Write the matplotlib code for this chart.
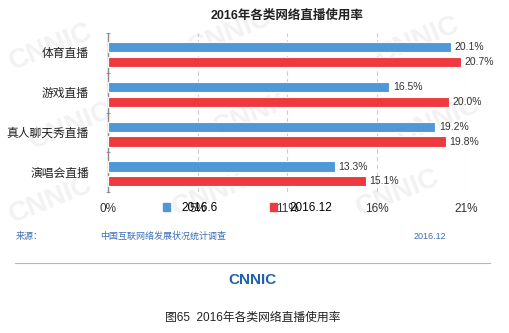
import matplotlib.pyplot as plt
import numpy as np
from matplotlib.patches import Patch

plt.rcParams['font.family'] = ['Liberation Sans', 'Noto Sans CJK SC', 'DejaVu Sans']

categories = ['体育直播', '游戏直播', '真人聊天秀直播', '演唱会直播']
jun_2016 = [20.1, 16.5, 19.2, 13.3]
dec_2016 = [20.7, 20.0, 19.8, 15.1]
series_names = ['2016.6', '2016.12']
tick_vals = [0, 5.25, 10.5, 15.75, 21]
tick_labels = ['0%', '5%', '11%', '16%', '21%']

blue = '#4e98d8'
red = '#ee3a3f'

fig = plt.figure(figsize=(5.1, 3.33), dpi=100)

# faint logo watermark behind everything
for wx, wy in [(0.10, 0.86), (0.45, 0.90), (0.82, 0.88), (0.14, 0.62), (0.50, 0.66),
               (0.86, 0.64), (0.10, 0.40), (0.42, 0.42), (0.78, 0.42)]:
    fig.text(wx, wy, 'CNNIC', fontsize=20, fontweight='bold', color='#f2f2f2',
             rotation=22, ha='center', va='center', zorder=-1)

ax = fig.add_axes([0.2127, 0.4234, 0.7010, 0.4775])
ax.patch.set_alpha(0)

y = np.arange(len(categories))
h = 0.26
ax.barh(y - 0.14, jun_2016, height=h, color=blue, edgecolor='white', linewidth=0.8, zorder=3)
ax.barh(y + 0.23, dec_2016, height=h, color=red, edgecolor='white', linewidth=0.8, zorder=3)

for yi, v in zip(y, jun_2016):
    ax.text(v + 0.2, yi - 0.14, f'{v:.1f}%', va='center', ha='left', fontsize=7.5, color='#333333')
for yi, v in zip(y, dec_2016):
    ax.text(v + 0.2, yi + 0.23, f'{v:.1f}%', va='center', ha='left', fontsize=7.5, color='#333333')

ax.set_xlim(0, 21)
ax.set_ylim(len(categories) - 0.5, -0.5)
ax.set_xticks(tick_vals)
ax.set_xticklabels(tick_labels, fontsize=8.5, color='#333333')
ax.tick_params(axis='x', length=0, pad=8)
ax.set_yticks(y)
ax.set_yticklabels(categories, fontsize=8.5, color='#222222')
ax.tick_params(axis='y', which='major', length=0, pad=14)
ax.set_yticks(np.arange(-0.5, len(categories)), minor=True)
ax.tick_params(axis='y', which='minor', length=3, color='#888888', direction='inout')

ax.grid(axis='x', linestyle=(0, (4, 3)), color='#cccccc', linewidth=0.8, zorder=0)
for s in ['top', 'right', 'bottom']:
    ax.spines[s].set_visible(False)
ax.spines['left'].set_color('#888888')
ax.spines['left'].set_linewidth(1)

ax.set_title('2016年各类网络直播使用率', fontsize=9, fontweight='bold', color='#222222',
             x=0.5, pad=10)

handles = [Patch(color=blue), Patch(color=red)]
fig.legend(handles, series_names, loc='center', bbox_to_anchor=(0.485, 0.375), ncol=2,
           frameon=False, fontsize=8.5, handlelength=0.6, handleheight=0.6,
           handletextpad=1.0, columnspacing=4.4)

# source line, separator, logo and caption
src_color = '#3a6fb8'
fig.text(0.03, 0.29, '来源：', fontsize=6.5, color=src_color, va='center')
fig.text(0.197, 0.29, '中国互联网络发展状况统计调查', fontsize=6.5, color=src_color, va='center')
fig.text(0.81, 0.29, '2016.12', fontsize=6.5, color=src_color, va='center')
fig.add_artist(plt.Line2D([0.03, 0.96], [0.21, 0.21], color='#9dbde6', linewidth=0.8))
fig.text(0.495, 0.16, 'CNNIC', fontsize=11, fontweight='bold', color='#1f63b0',
         ha='center', va='center')
fig.text(0.495, 0.045, '图65  2016年各类网络直播使用率', fontsize=8.5, color='#222222',
         ha='center', va='center')

fig.savefig('out.png', dpi=100)
